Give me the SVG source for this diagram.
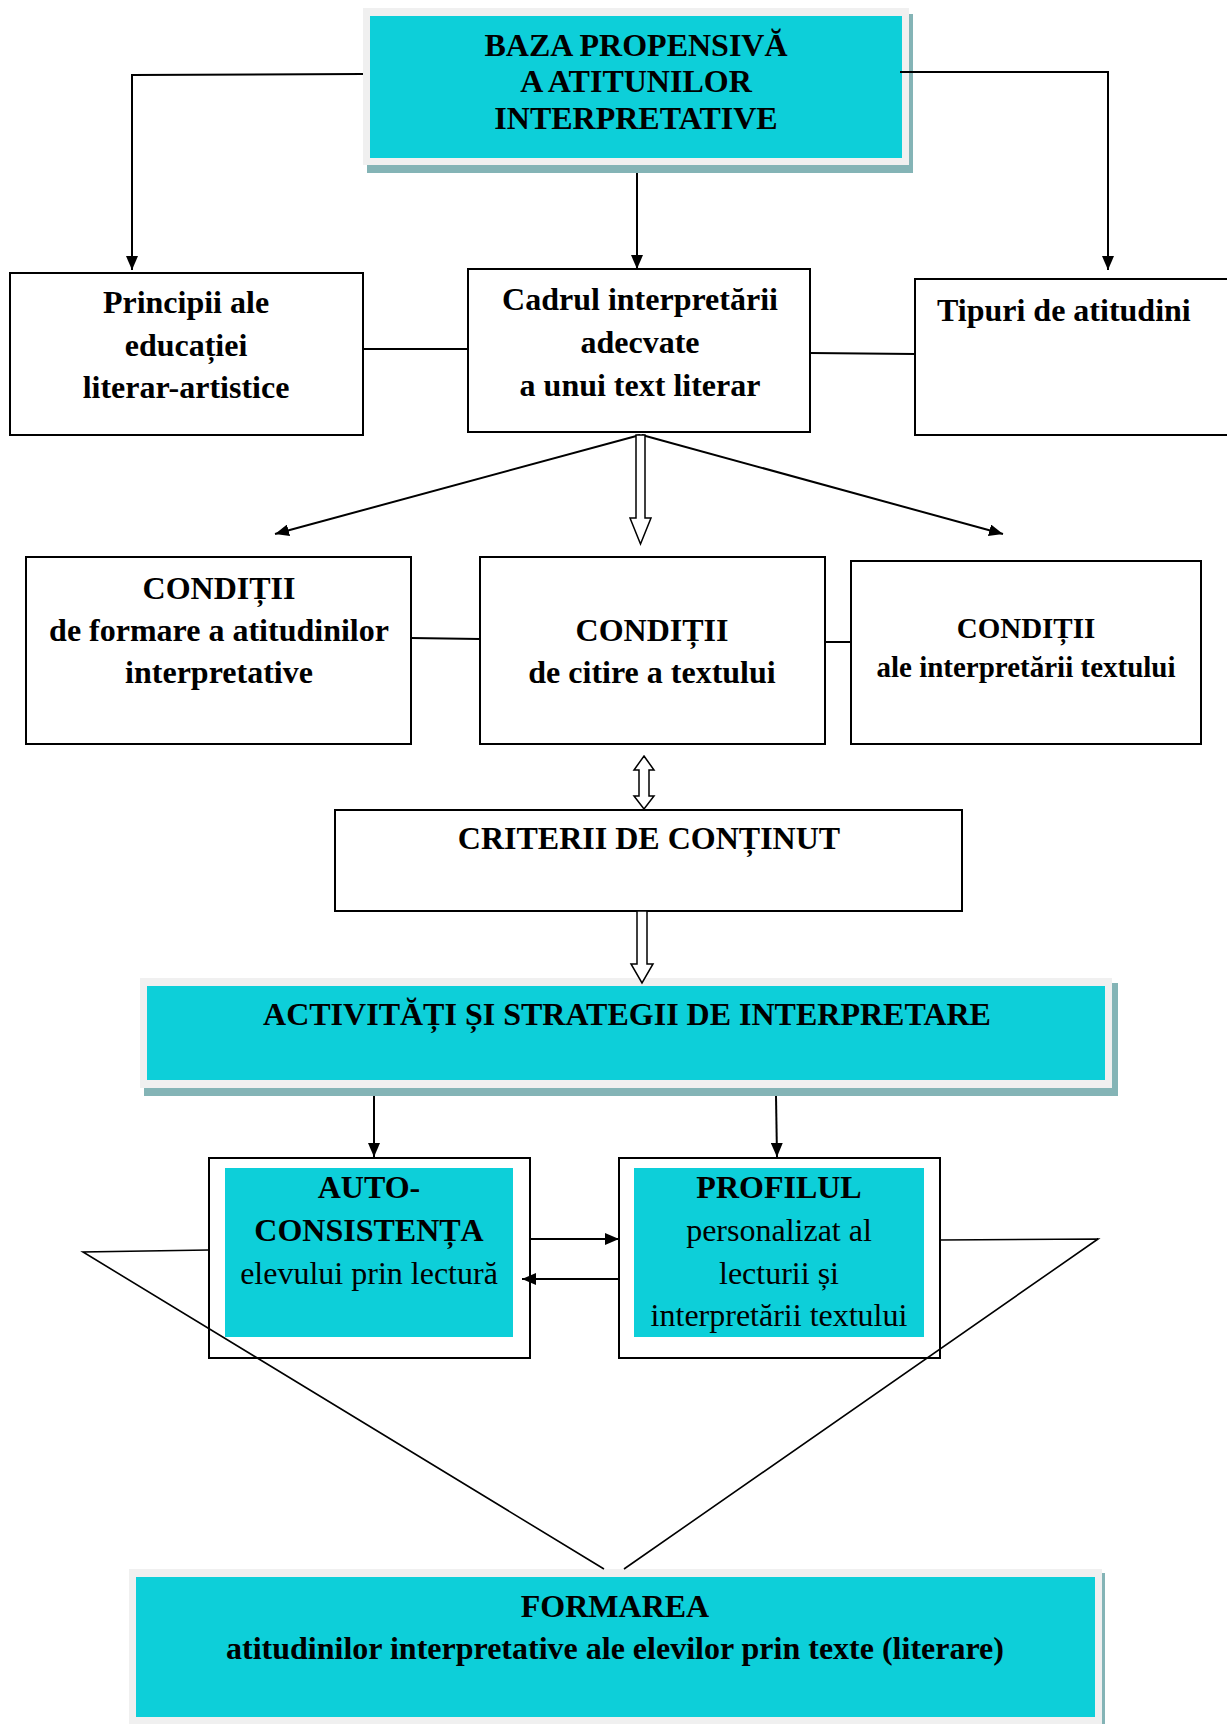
<svg xmlns="http://www.w3.org/2000/svg" width="1227" height="1724" viewBox="0 0 1227 1724">
<style>
.b{fill:#fff;stroke:#000;stroke-width:2}
.c{fill:#0dcfd9}
.g{fill:#f0f0f0}
.s{fill:#84b4b6}
.t{font-family:"Liberation Serif","Times New Roman",serif;font-size:32px;font-weight:bold;text-anchor:middle;fill:#000}
.r{font-weight:normal}
.ln{fill:none;stroke:#000;stroke-width:2}
.ln2{fill:none;stroke:#000;stroke-width:1.6}
.ar{marker-end:url(#ah)}
.h{fill:#fff;stroke:#000;stroke-width:1.5}
</style>
<defs>
<marker id="ah" markerUnits="userSpaceOnUse" markerWidth="14" markerHeight="12" refX="14" refY="6" orient="auto">
<path d="M0,0 L14,6 L0,12 Z" fill="#000"/>
</marker>
</defs>

<g id="baza">
<rect class="s" x="367" y="14" width="546" height="159"/>
<rect class="g" x="363" y="8" width="546" height="157"/>
<rect class="c" x="370" y="16" width="532" height="142"/>
<text class="t" x="636" y="56">BAZA PROPENSIVĂ</text>
<text class="t" x="636" y="92">A ATITUNILOR</text>
<text class="t" x="636" y="129">INTERPRETATIVE</text>
</g>

<g id="principii">
<rect class="b" x="10" y="273" width="353" height="162"/>
<text class="t" x="186" y="313">Principii ale</text>
<text class="t" x="186" y="356">educației</text>
<text class="t" x="186" y="398">literar-artistice</text>
</g>

<g id="cadrul">
<rect class="b" x="468" y="269" width="342" height="163"/>
<text class="t" x="640" y="310">Cadrul interpretării</text>
<text class="t" x="640" y="353">adecvate</text>
<text class="t" x="640" y="396">a unui text literar</text>
</g>

<g id="tipuri">
<rect class="b" x="915" y="279" width="330" height="156"/>
<text class="t" x="937" y="321" style="text-anchor:start">Tipuri de atitudini</text>
</g>

<g id="conditii-formare">
<rect class="b" x="26" y="557" width="385" height="187"/>
<text class="t" x="219" y="599">CONDIȚII</text>
<text class="t" x="219" y="641">de formare a atitudinilor</text>
<text class="t" x="219" y="683">interpretative</text>
</g>

<g id="conditii-citire">
<rect class="b" x="480" y="557" width="345" height="187"/>
<text class="t" x="652" y="641">CONDIȚII</text>
<text class="t" x="652" y="683">de citire a textului</text>
</g>

<g id="conditii-interpretare">
<rect class="b" x="851" y="561" width="350" height="183"/>
<text class="t" x="1026" y="638" style="font-size:29px">CONDIȚII</text>
<text class="t" x="1026" y="677" style="font-size:29px">ale interpretării textului</text>
</g>

<g id="criterii">
<rect class="b" x="335" y="810" width="627" height="101"/>
<text class="t" x="649" y="849">CRITERII DE CONȚINUT</text>
</g>

<g id="activitati">
<rect class="s" x="144" y="983" width="974" height="113"/>
<rect class="g" x="140" y="978" width="972" height="110"/>
<rect class="c" x="147" y="986" width="958" height="94"/>
<text class="t" x="627" y="1025">ACTIVITĂȚI ȘI STRATEGII DE INTERPRETARE</text>
</g>

<g id="auto">
<rect class="b" x="209" y="1158" width="321" height="200"/>
<rect class="c" x="225" y="1168" width="288" height="169"/>
<text class="t" x="369" y="1198">AUTO-</text>
<text class="t" x="369" y="1241">CONSISTENȚA</text>
<text class="t r" x="369" y="1284">elevului prin lectură</text>
</g>

<g id="profilul">
<rect class="b" x="619" y="1158" width="321" height="200"/>
<rect class="c" x="634" y="1168" width="290" height="169"/>
<text class="t" x="779" y="1198">PROFILUL</text>
<text class="t r" x="779" y="1241">personalizat al</text>
<text class="t r" x="779" y="1284">lecturii și</text>
<text class="t r" x="779" y="1326">interpretării textului</text>
</g>

<g id="formarea">
<rect class="s" x="133" y="1573" width="972" height="160"/>
<rect class="g" x="129" y="1569" width="973" height="160"/>
<rect class="c" x="136" y="1577" width="959" height="140"/>
<text class="t" x="615" y="1617">FORMAREA</text>
<text class="t" x="615" y="1659">atitudinilor interpretative ale elevilor prin texte (literare)</text>
</g>

<g id="connectors">
<path class="ln ar" d="M363,74 L132,75 L132,270"/>
<path class="ln ar" d="M637,173 L637,269"/>
<path class="ln ar" d="M900,72 L1108,72 L1108,270"/>
<path class="ln" d="M363,349 L468,349"/>
<path class="ln" d="M810,353 L915,354"/>
<path class="ln ar" d="M640,435 L275,534"/>
<path class="ln ar" d="M642,435 L1003,534"/>
<path class="h" d="M636,435 L645,435 L645,518 L651,518 L640.5,544 L630,518 L636,518 Z"/>
<path class="ln" d="M411,638 L480,639"/>
<path class="ln" d="M825,642 L851,642"/>
<path class="h" d="M644,756 L654,770 L649,770 L649,796 L654,796 L644,809 L634,796 L639,796 L639,770 L634,770 Z"/>
<path class="h" d="M637,911 L647,911 L647,964 L653,964 L642,983 L631,964 L637,964 Z"/>
<path class="ln ar" d="M374,1096 L374,1157"/>
<path class="ln ar" d="M776,1096 L777,1157"/>
<path class="ln ar" d="M530,1239 L619,1239"/>
<path class="ln ar" d="M619,1279 L522,1279"/>
<path class="ln2" d="M209,1250 L83,1252 L604,1569"/>
<path class="ln2" d="M940,1240 L1098,1239 L624,1569"/>
</g>
</svg>
